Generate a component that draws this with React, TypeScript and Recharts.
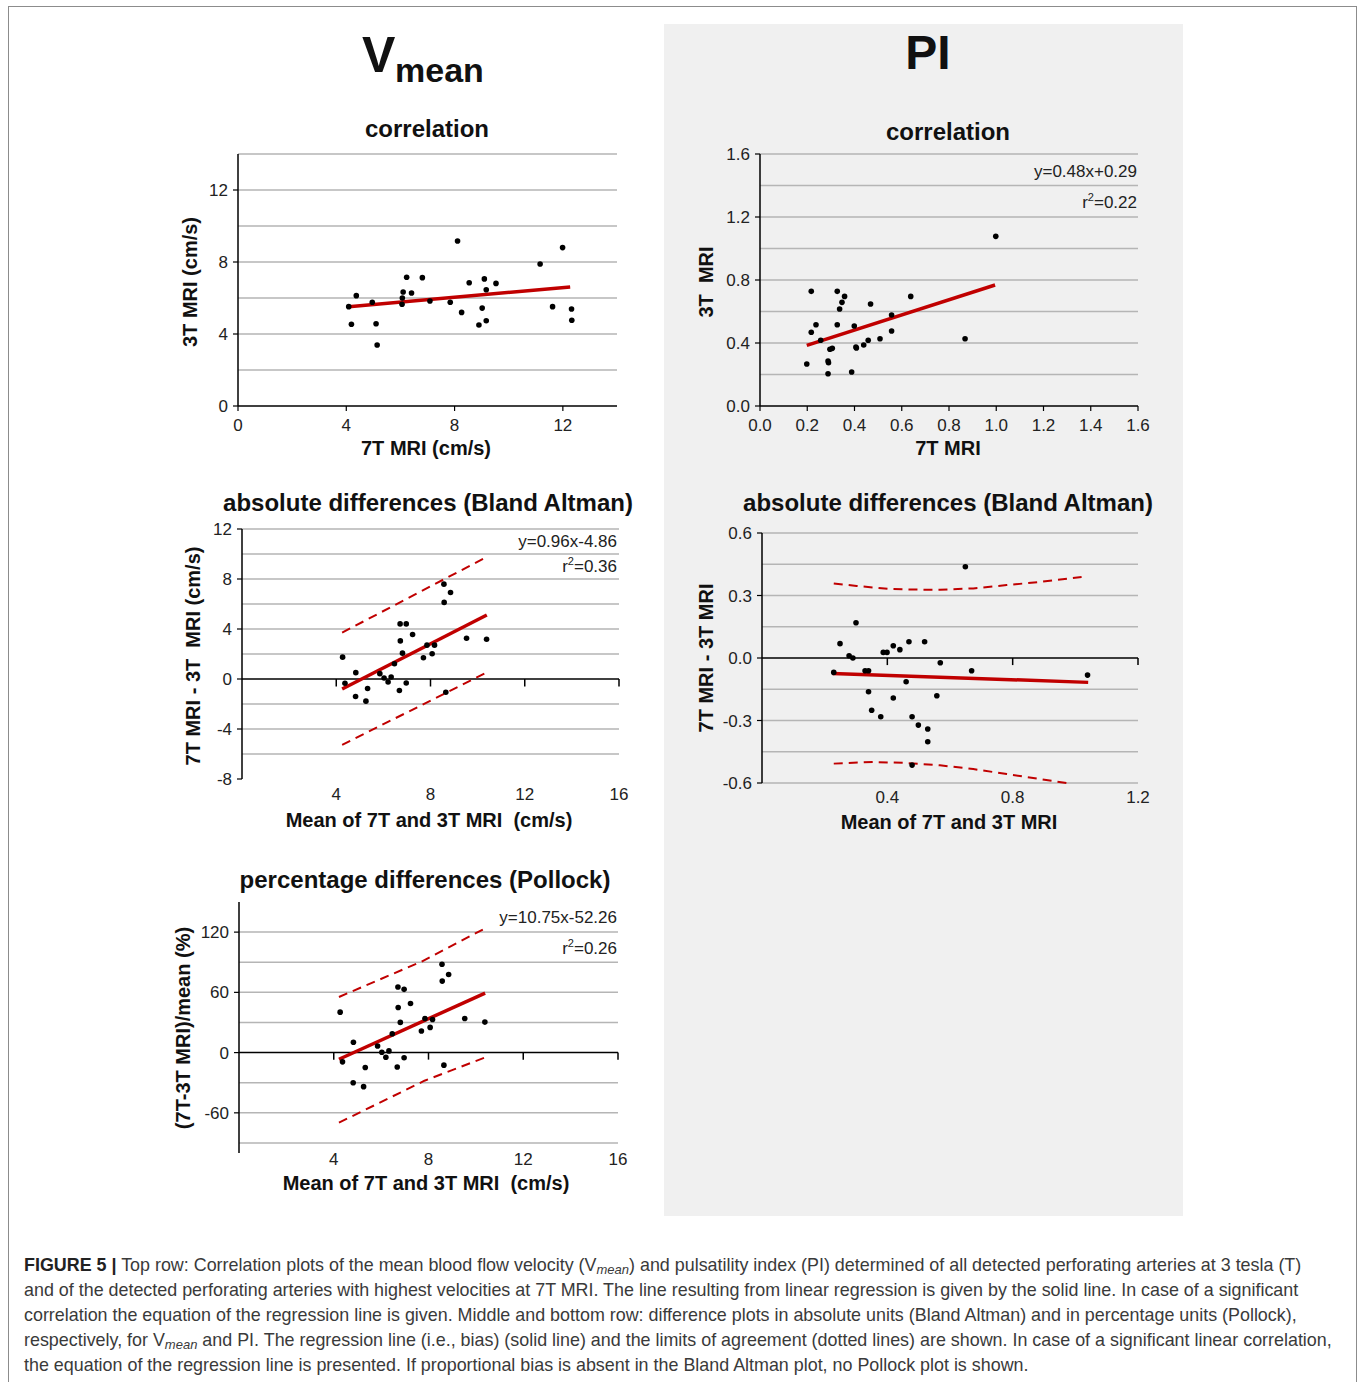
import React from "react"
import { ScatterChart, Scatter, XAxis, YAxis, CartesianGrid, ReferenceLine } from "recharts"

// ---- Vmean: correlation (7T vs 3T, cm/s)
const vCorr7T = [4.09, 4.19, 4.37, 4.96, 5.1, 5.14, 6.06, 6.07, 6.1, 6.23, 6.41, 6.81, 7.09, 7.84, 8.11, 8.26, 8.54, 8.9, 9.02, 9.1, 9.17, 9.17, 9.53, 11.16, 11.62, 11.99, 12.32, 12.33]
const vCorr3T = [5.52, 4.54, 6.13, 5.76, 4.57, 3.39, 5.65, 6.0, 6.33, 7.15, 6.28, 7.13, 5.83, 5.76, 9.17, 5.2, 6.85, 4.5, 5.44, 7.06, 6.46, 4.74, 6.81, 7.89, 5.52, 8.8, 5.39, 4.76]
const vCorrFitX = [4.09, 12.27]
const vCorrFitY = [5.52, 6.61]

// ---- PI: correlation
const piCorr7T = [0.198, 0.217, 0.217, 0.237, 0.257, 0.288, 0.288, 0.29, 0.296, 0.306, 0.327, 0.327, 0.337, 0.347, 0.358, 0.388, 0.399, 0.406, 0.408, 0.439, 0.458, 0.468, 0.508, 0.557, 0.557, 0.638, 0.868, 0.998]
const piCorr3T = [0.267, 0.728, 0.468, 0.516, 0.417, 0.205, 0.286, 0.275, 0.36, 0.366, 0.728, 0.516, 0.616, 0.658, 0.696, 0.216, 0.508, 0.375, 0.368, 0.387, 0.417, 0.648, 0.427, 0.578, 0.476, 0.696, 0.427, 1.077]
const piCorrFitX = [0.198, 0.995]
const piCorrFitY = [0.385, 0.768]

// ---- Vmean: Bland Altman (absolute differences)
const vMean = [4.27, 4.37, 4.83, 4.82, 5.26, 5.33, 5.85, 6.03, 6.2, 6.33, 6.47, 6.68, 6.71, 6.72, 6.81, 6.97, 6.97, 7.24, 7.7, 7.85, 8.07, 8.17, 8.57, 8.58, 8.65, 8.85, 9.53, 10.38]
const vDiff = [1.75, -0.34, 0.51, -1.4, -1.77, -0.76, 0.43, 0.08, -0.24, 0.16, 1.22, -0.92, 4.41, 3.05, 2.07, 4.41, -0.32, 3.56, 1.7, 2.71, 2.02, 2.71, 7.59, 6.13, -1.06, 6.92, 3.26, 3.18]
const vBaFitX = [4.25, 10.39]
const vBaFitY = [-0.8, 5.12]
const vBaUpX = [4.25, 10.25]
const vBaUpY = [3.71, 9.63]
const vBaLoX = [4.25, 10.29]
const vBaLoY = [-5.27, 0.43]

// ---- PI: Bland Altman
const piMean = [0.229, 0.249, 0.278, 0.29, 0.3, 0.329, 0.34, 0.34, 0.35, 0.379, 0.387, 0.399, 0.419, 0.419, 0.44, 0.46, 0.469, 0.479, 0.479, 0.499, 0.519, 0.529, 0.529, 0.558, 0.569, 0.649, 0.669, 1.039]
const piDiff = [-0.069, 0.069, 0.011, 0.0, 0.169, -0.061, -0.061, -0.162, -0.251, -0.282, 0.027, 0.027, 0.059, -0.192, 0.04, -0.114, 0.078, -0.282, -0.514, -0.322, 0.078, -0.341, -0.402, -0.181, -0.023, 0.438, -0.061, -0.082]
const piBaFitX = [0.225, 1.041]
const piBaFitY = [-0.074, -0.117]
const piBaUpX = [0.229, 0.302, 0.409, 0.515, 0.568, 0.674, 0.781, 0.887, 1.02]
const piBaUpY = [0.358, 0.346, 0.331, 0.328, 0.328, 0.334, 0.35, 0.365, 0.389]
const piBaLoX = [0.229, 0.355, 0.462, 0.568, 0.674, 0.781, 0.887, 0.972]
const piBaLoY = [-0.507, -0.499, -0.504, -0.515, -0.533, -0.557, -0.581, -0.6]

// ---- Vmean: Pollock (percentage differences)
const vPct = [40.3, -9.2, 10.3, -30.0, -33.9, -14.8, 6.6, 0.4, -4.6, 1.7, 18.8, -14.4, 65.3, 44.9, 30.1, 63.0, -5.2, 48.9, 21.5, 34.0, 25.1, 33.0, 88.0, 71.2, -12.5, 77.8, 34.0, 30.4]
const vPolFitX = [4.22, 10.39]
const vPolFitY = [-6.6, 59.3]
const vPolUpX = [4.22, 7.71, 10.35]
const vPolUpY = [55.4, 90.7, 123.3]
const vPolLoX = [4.22, 7.83, 10.35]
const vPolLoY = [-69.8, -28.0, -5.2]

const FONT = "'Liberation Sans', Arial, Helvetica, sans-serif"
const RED = "#c00000"
const GRID = "#b5b5b5"
const Y_W = 60
const M_T = 10
const M_R = 24
const X_H = 34

type Pt = { x: number; y: number }
const zip = (xs: number[], ys: number[]): Pt[] => xs.map((x, i) => ({ x, y: ys[i] }))

const Dot = (p: any) => <circle cx={p.cx} cy={p.cy} r={2.8} fill="#000" />
const NoDot = () => <g />

interface PanelProps {
  left: number
  top: number
  plotW: number
  plotH: number
  xDomain: [number, number]
  xTicks: number[]
  yDomain: [number, number]
  yTicks: number[]
  grid: number[]
  digits: number
  points: Pt[]
  fit: Pt[]
  upper?: Pt[]
  lower?: Pt[]
  zeroAxis?: boolean
  zeroTick?: number
  xTickGap: number
}

function Panel(p: PanelProps) {
  const tickStyle = { fill: "#222", fontSize: 17 }
  const fmt = (v: number) => v.toFixed(p.digits)
  return (
    <div style={{ position: "absolute", left: p.left - Y_W, top: p.top - M_T }}>
      <ScatterChart
        width={p.plotW + Y_W + M_R}
        height={p.plotH + M_T + X_H}
        margin={{ top: M_T, right: M_R, bottom: 0, left: 0 }}
      >
        <CartesianGrid vertical={false} horizontalValues={p.grid} stroke={GRID} strokeWidth={1.5} />
        <XAxis
          type="number"
          dataKey="x"
          domain={p.xDomain}
          ticks={p.xTicks}
          interval={0}
          height={X_H}
          axisLine={p.zeroAxis ? false : { stroke: "#000", strokeWidth: 1.5 }}
          tickLine={p.zeroAxis ? false : { stroke: "#000", strokeWidth: 1.2 }}
          tickSize={p.zeroAxis ? 0 : 5}
          tickMargin={p.xTickGap}
          tick={tickStyle}
          tickFormatter={fmt}
        />
        <YAxis
          type="number"
          dataKey="y"
          domain={p.yDomain}
          ticks={p.yTicks}
          interval={0}
          width={Y_W}
          axisLine={{ stroke: "#000", strokeWidth: 1.5 }}
          tickLine={{ stroke: "#000", strokeWidth: 1.2 }}
          tickSize={5}
          tickMargin={5}
          tick={tickStyle}
          tickFormatter={fmt}
        />
        {p.zeroAxis && <ReferenceLine y={0} stroke="#000" strokeWidth={1.5} />}
        {p.zeroAxis &&
          p.xTicks.map((t) => (
            <ReferenceLine
              key={t}
              segment={[{ x: t, y: 0 }, { x: t, y: -(p.zeroTick || 0) }]}
              stroke="#000"
              strokeWidth={1.5}
            />
          ))}
        {p.upper && (
          <Scatter data={p.upper} shape={NoDot} isAnimationActive={false}
            line={{ stroke: RED, strokeWidth: 2, strokeDasharray: "9 6" }} />
        )}
        {p.lower && (
          <Scatter data={p.lower} shape={NoDot} isAnimationActive={false}
            line={{ stroke: RED, strokeWidth: 2, strokeDasharray: "9 6" }} />
        )}
        <Scatter data={p.fit} shape={NoDot} isAnimationActive={false} line={{ stroke: RED, strokeWidth: 3.5 }} />
        <Scatter data={p.points} shape={Dot} isAnimationActive={false} />
      </ScatterChart>
    </div>
  )
}

function Txt(props: { x: number; y: number; size: number; bold?: boolean; rotate?: boolean; children: React.ReactNode }) {
  return (
    <div
      style={{
        position: "absolute",
        left: props.x,
        top: props.y,
        transform: `translate(-50%, -50%)${props.rotate ? " rotate(-90deg)" : ""}`,
        fontSize: props.size,
        fontWeight: props.bold ? 700 : 400,
        whiteSpace: "nowrap",
        lineHeight: 1,
      }}
    >
      {props.children}
    </div>
  )
}

function Note(props: { right: number; y: number; children: React.ReactNode }) {
  return (
    <div style={{ position: "absolute", right: 1360 - props.right, top: props.y - 10, fontSize: 17, lineHeight: "20px", color: "#222", whiteSpace: "nowrap" }}>
      {props.children}
    </div>
  )
}

// r² label: superscript kept out of the line box so the baseline matches the other note
const R2 = (props: { right: number; y: number; value: string }) => (
  <Note right={props.right} y={props.y}>
    r<span style={{ fontSize: 11, position: "relative", top: -7 }}>2</span>={props.value}
  </Note>
)

const capLine: React.CSSProperties = { position: "absolute", left: 24, fontSize: 17.9, lineHeight: "20px", color: "#3a3a3a", whiteSpace: "nowrap" }
const sub: React.CSSProperties = { fontStyle: "italic", fontSize: 13, verticalAlign: "-3px" }

export default function App() {
  return (
    <div style={{ position: "absolute", left: 0, top: 0, width: 1360, height: 1382, overflow: "hidden", background: "#fff", fontFamily: FONT, color: "#111" }}>
      <div style={{ position: "absolute", left: 8, top: 6, width: 1347, height: 1420, border: "1px solid #8c8c8c" }} />
      <div style={{ position: "absolute", left: 664, top: 24, width: 519, height: 1192, background: "#f0f0f0" }} />

      {/* column titles */}
      <div style={{ position: "absolute", left: 362, top: 30, fontSize: 50, fontWeight: 700, lineHeight: 1 }}>V</div>
      <div style={{ position: "absolute", left: 395, top: 53, fontSize: 34, fontWeight: 700, lineHeight: 1 }}>mean</div>
      <Txt x={928} y={53} size={48} bold>PI</Txt>

      {/* Vmean correlation */}
      <Txt x={427} y={129} size={24} bold>correlation</Txt>
      <Panel left={238} top={154} plotW={379} plotH={252} xDomain={[0, 14]} xTicks={[0, 4, 8, 12]}
        yDomain={[0, 14]} yTicks={[0, 4, 8, 12]} grid={[2, 4, 6, 8, 10, 12, 14]} digits={0}
        points={zip(vCorr7T, vCorr3T)} fit={zip(vCorrFitX, vCorrFitY)} xTickGap={8} />
      <Txt x={426} y={448} size={20} bold>7T MRI (cm/s)</Txt>
      <Txt x={190} y={282} size={20} bold rotate>3T MRI (cm/s)</Txt>

      {/* PI correlation */}
      <Txt x={948} y={132} size={24} bold>correlation</Txt>
      <Panel left={760} top={154} plotW={378} plotH={252} xDomain={[0, 1.6]}
        xTicks={[0, 0.2, 0.4, 0.6, 0.8, 1.0, 1.2, 1.4, 1.6]} yDomain={[0, 1.6]} yTicks={[0, 0.4, 0.8, 1.2, 1.6]}
        grid={[0.2, 0.4, 0.6, 0.8, 1.0, 1.2, 1.4, 1.6]} digits={1}
        points={zip(piCorr7T, piCorr3T)} fit={zip(piCorrFitX, piCorrFitY)} xTickGap={8} />
      <Note right={1137} y={172}>y=0.48x+0.29</Note>
      <R2 right={1137} y={203} value="0.22" />
      <Txt x={948} y={448} size={20} bold>7T MRI</Txt>
      <Txt x={706} y={282} size={20} bold rotate>3T&nbsp; MRI</Txt>

      {/* Vmean Bland Altman */}
      <Txt x={428} y={503} size={24} bold>absolute differences (Bland Altman)</Txt>
      <Panel left={242} top={529} plotW={377} plotH={250} xDomain={[0, 16]} xTicks={[4, 8, 12, 16]}
        yDomain={[-8, 12]} yTicks={[-8, -4, 0, 4, 8, 12]} grid={[-6, -4, -2, 2, 4, 6, 8, 10, 12]} digits={0}
        points={zip(vMean, vDiff)} fit={zip(vBaFitX, vBaFitY)} upper={zip(vBaUpX, vBaUpY)} lower={zip(vBaLoX, vBaLoY)}
        zeroAxis zeroTick={0.6} xTickGap={9} />
      <Note right={617} y={542}>y=0.96x-4.86</Note>
      <R2 right={617} y={567} value="0.36" />
      <Txt x={429} y={820} size={20} bold>Mean of 7T and 3T MRI&nbsp; (cm/s)</Txt>
      <Txt x={193} y={656} size={20} bold rotate>7T MRI - 3T&nbsp; MRI (cm/s)</Txt>

      {/* PI Bland Altman */}
      <Txt x={948} y={503} size={24} bold>absolute differences (Bland Altman)</Txt>
      <Panel left={762} top={533} plotW={376} plotH={250} xDomain={[0, 1.2]} xTicks={[0.4, 0.8, 1.2]}
        yDomain={[-0.6, 0.6]} yTicks={[-0.6, -0.3, 0, 0.3, 0.6]}
        grid={[-0.6, -0.45, -0.3, -0.15, 0.15, 0.3, 0.45, 0.6]} digits={1}
        points={zip(piMean, piDiff)} fit={zip(piBaFitX, piBaFitY)} upper={zip(piBaUpX, piBaUpY)} lower={zip(piBaLoX, piBaLoY)}
        zeroAxis zeroTick={0.034} xTickGap={8} />
      <Txt x={949} y={822} size={20} bold>Mean of 7T and 3T MRI</Txt>
      <Txt x={706} y={658} size={20} bold rotate>7T MRI - 3T MRI</Txt>

      {/* Vmean Pollock */}
      <Txt x={425} y={880} size={24} bold>percentage differences (Pollock)</Txt>
      <Panel left={239} top={902} plotW={379} plotH={251} xDomain={[0, 16]} xTicks={[4, 8, 12, 16]}
        yDomain={[-100, 150]} yTicks={[-60, 0, 60, 120]} grid={[-90, -60, -30, 30, 60, 90, 120]} digits={0}
        points={zip(vMean, vPct)} fit={zip(vPolFitX, vPolFitY)} upper={zip(vPolUpX, vPolUpY)} lower={zip(vPolLoX, vPolLoY)}
        zeroAxis zeroTick={7} xTickGap={0} />
      <Note right={617} y={918}>y=10.75x-52.26</Note>
      <R2 right={617} y={949} value="0.26" />
      <Txt x={426} y={1183} size={20} bold>Mean of 7T and 3T MRI&nbsp; (cm/s)</Txt>
      <Txt x={183} y={1028} size={20} bold rotate>(7T-3T MRI)/mean (%)</Txt>

      {/* caption */}
      <div style={{ ...capLine, top: 1255 }}>
        <b style={{ color: "#222" }}>FIGURE 5 |</b> Top row: Correlation plots of the mean blood flow velocity (V<span style={sub}>mean</span>) and pulsatility index (PI) determined of all detected perforating arteries at 3 tesla (T)
      </div>
      <div style={{ ...capLine, top: 1280 }}>
        and of the detected perforating arteries with highest velocities at 7T MRI. The line resulting from linear regression is given by the solid line. In case of a significant
      </div>
      <div style={{ ...capLine, top: 1305 }}>
        correlation the equation of the regression line is given. Middle and bottom row: difference plots in absolute units (Bland Altman) and in percentage units (Pollock),
      </div>
      <div style={{ ...capLine, top: 1330 }}>
        respectively, for V<span style={sub}>mean</span> and PI. The regression line (i.e., bias) (solid line) and the limits of agreement (dotted lines) are shown. In case of a significant linear correlation,
      </div>
      <div style={{ ...capLine, top: 1355 }}>
        the equation of the regression line is presented. If proportional bias is absent in the Bland Altman plot, no Pollock plot is shown.
      </div>
    </div>
  )
}
